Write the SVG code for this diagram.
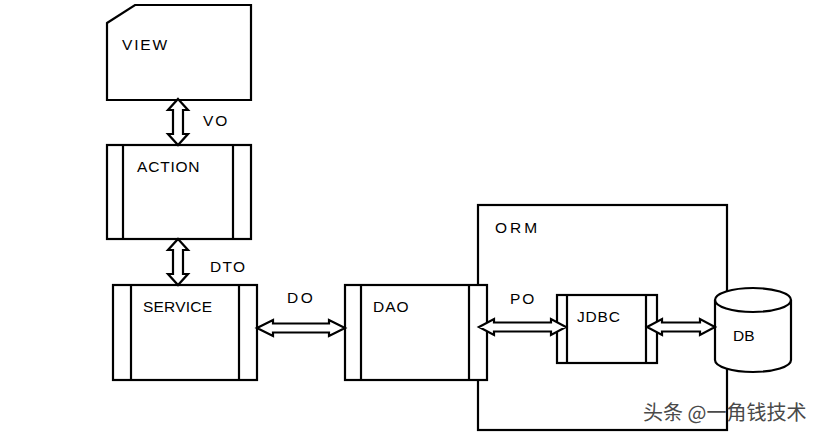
<svg xmlns="http://www.w3.org/2000/svg" width="828" height="436" viewBox="0 0 828 436">
  <style>
    .box { fill: #ffffff; stroke: #000000; stroke-width: 2.2; }
    .line { fill: none; stroke: #000000; stroke-width: 2.2; }
    .arrow { fill: #ffffff; stroke: #000000; stroke-width: 2.2; stroke-linejoin: miter; }
    .label { font-family: "Liberation Sans", Arial, sans-serif; font-size: 15.5px; fill: #000000; }
    .mark { font-family: "Noto Sans CJK SC", "Noto Sans", sans-serif; font-size: 20px; fill: #4a4a4a; }
  </style>
  <rect width="828" height="436" fill="#ffffff"/>

  <!-- ORM container -->
  <g id="orm">
    <rect class="box" x="478" y="205" width="249" height="225"/>
    <text class="label" x="495" y="233" letter-spacing="3">ORM</text>
  </g>

  <!-- VIEW (card with clipped corner) -->
  <g id="view">
    <path class="box" d="M107,23 L135,5 L251,5 L251,100 L107,100 Z"/>
    <text class="label" x="122" y="50" letter-spacing="1.8">VIEW</text>
  </g>

  <!-- ACTION -->
  <g id="action">
    <rect class="box" x="107" y="145" width="144" height="94"/>
    <line class="line" x1="123" y1="145" x2="123" y2="239"/>
    <line class="line" x1="233" y1="145" x2="233" y2="239"/>
    <text class="label" x="137" y="172" letter-spacing="0.8">ACTION</text>
  </g>

  <!-- SERVICE -->
  <g id="service">
    <rect class="box" x="113" y="285" width="144" height="95"/>
    <line class="line" x1="131" y1="285" x2="131" y2="380"/>
    <line class="line" x1="239" y1="285" x2="239" y2="380"/>
    <text class="label" x="143" y="312" letter-spacing="0.2">SERVICE</text>
  </g>

  <!-- DAO -->
  <g id="dao">
    <rect class="box" x="345" y="285" width="142" height="95"/>
    <line class="line" x1="361" y1="285" x2="361" y2="380"/>
    <line class="line" x1="469" y1="285" x2="469" y2="380"/>
    <text class="label" x="373" y="312" letter-spacing="1">DAO</text>
  </g>

  <!-- JDBC -->
  <g id="jdbc">
    <rect class="box" x="557" y="295" width="100" height="68"/>
    <line class="line" x1="567" y1="295" x2="567" y2="363"/>
    <line class="line" x1="646" y1="295" x2="646" y2="363"/>
    <text class="label" x="577" y="322" letter-spacing="0.8">JDBC</text>
  </g>

  <!-- DB cylinder -->
  <g id="db">
    <path class="box" d="M715,300 L715,360 A38,12 0 0 0 791,360 L791,300 A38,12 0 0 0 715,300 Z"/>
    <path class="line" d="M715,300 A38,12 0 0 0 791,300"/>
    <text class="label" x="733" y="341">DB</text>
  </g>

  <!-- connectors: hollow double-headed arrows -->
  <g id="connectors">
    <polygon class="arrow" points="178,99 188,110 183,110 183,134 188,134 178,145 168,134 173,134 173,110 168,110"/>
    <polygon class="arrow" points="178,239 188,250 183,250 183,274 188,274 178,285 168,274 173,274 173,250 168,250"/>
    <polygon class="arrow" points="257,328 273,320 273,323.5 329,323.5 329,320 345,328 329,336 329,332.5 273,332.5 273,336"/>
    <polygon class="arrow" points="479,327 494,319 494,322.5 551,322.5 551,319 566,327 551,335 551,331.5 494,331.5 494,335"/>
    <polygon class="arrow" points="647,327 662,319 662,322.5 700,322.5 700,319 715,327 700,335 700,331.5 662,331.5 662,335"/>
    <text class="label" x="203" y="126" letter-spacing="1.8">VO</text>
    <text class="label" x="210" y="272" letter-spacing="1.3">DTO</text>
    <text class="label" x="287" y="303" letter-spacing="2.5">DO</text>
    <text class="label" x="510" y="304" letter-spacing="1.8">PO</text>
  </g>

  <text class="mark" x="643" y="420">头条 @一角钱技术</text>
</svg>
